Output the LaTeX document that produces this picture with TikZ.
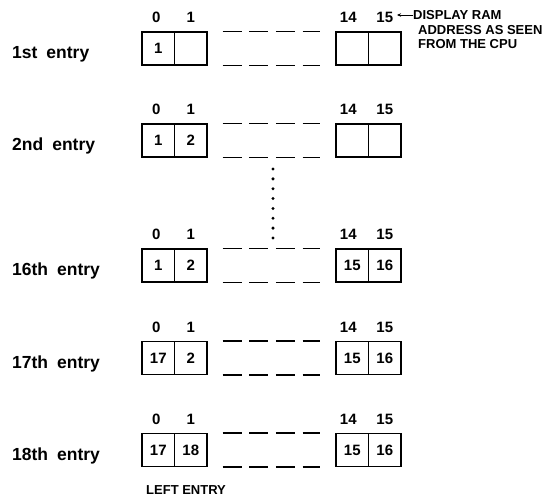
\documentclass[tikz,border=0pt]{standalone}
\usepackage{fontspec}
\setmainfont{Liberation Sans}
\usetikzlibrary{arrows.meta}

\tikzset{
  cell/.style={draw, line width=1.3pt, minimum width=32.5pt, minimum height=33pt, inner sep=0pt, font=\bfseries\fontsize{15}{15}\selectfont},
  idx/.style={anchor=base, inner sep=0pt, font=\bfseries\fontsize{15}{15}\selectfont},
  rowname/.style={anchor=base west, inner sep=0pt, font=\bfseries\fontsize{17.5}{20}\selectfont},
  note/.style={anchor=west, inner sep=0pt, font=\bfseries\fontsize{13}{14}\selectfont},
  gapline/.style={line width=1.6pt, dash pattern=on 19pt off 7.67pt},
  dotline/.style={line width=3.3pt, line cap=round, dash pattern=on 0pt off 9.857pt},
}

\begin{document}
\begin{tikzpicture}[x=1pt,y=-1pt]
\useasboundingbox (0,0) rectangle (548,500);

% one row per entry: name, centre, contents of cells 0, 1, 14, 15
\foreach \r/\y/\txt/\a/\b/\c/\d in {1/48.5/1st/1/{}/{}/{}, 2/140.5/2nd/1/2/{}/{},
    16/265.5/16th/1/2/15/16, 17/358/17th/17/2/15/16, 18/450/18th/17/18/15/16}{
  \node[rowname] (n\r) at (12,\y+10) {\txt\hspace{9pt}entry};
  \node[cell] (c\r a) at (158.25,\y) {\a};
  \node[cell] (c\r b) at (190.75,\y) {\b};
  \node[cell] (c\r c) at (352.25,\y) {\c};
  \node[cell] (c\r d) at (384.75,\y) {\d};
  \node[idx] (i\r a) at ([xshift=-2pt,yshift=8.5pt]c\r a.north) {0};
  \node[idx] (i\r b) at ([yshift=8.5pt]c\r b.north) {1};
  \node[idx] (i\r c) at ([xshift=-4pt,yshift=8.5pt]c\r c.north) {14};
  \node[idx] (i\r d) at ([yshift=8.5pt]c\r d.north) {15};
  \draw[gapline] ([xshift=15pt]c\r b.north east) -- ([xshift=-15pt]c\r c.north west);
  \draw[gapline] ([xshift=15pt]c\r b.south east) -- ([xshift=-15pt]c\r c.south west);
}

% skipped entries
\coordinate (dtop) at (273,169);
\coordinate (dbot) at (273,238);
\draw[dotline] (dtop) -- (dbot);

% address note
\node[note] (ram1) at (413,15) {DISPLAY RAM};
\node[note] (ram2) at (418,30) {ADDRESS AS SEEN};
\node[note] (ram3) at (418,44) {FROM THE CPU};
\coordinate (ramtip) at (397,15);
\draw[-{Stealth[length=4pt,width=3.5pt]}, line width=0.8pt] (ram1.west) -- (ramtip);

\node[note] (left) at (146,490) {LEFT ENTRY};

\end{tikzpicture}
\end{document}
